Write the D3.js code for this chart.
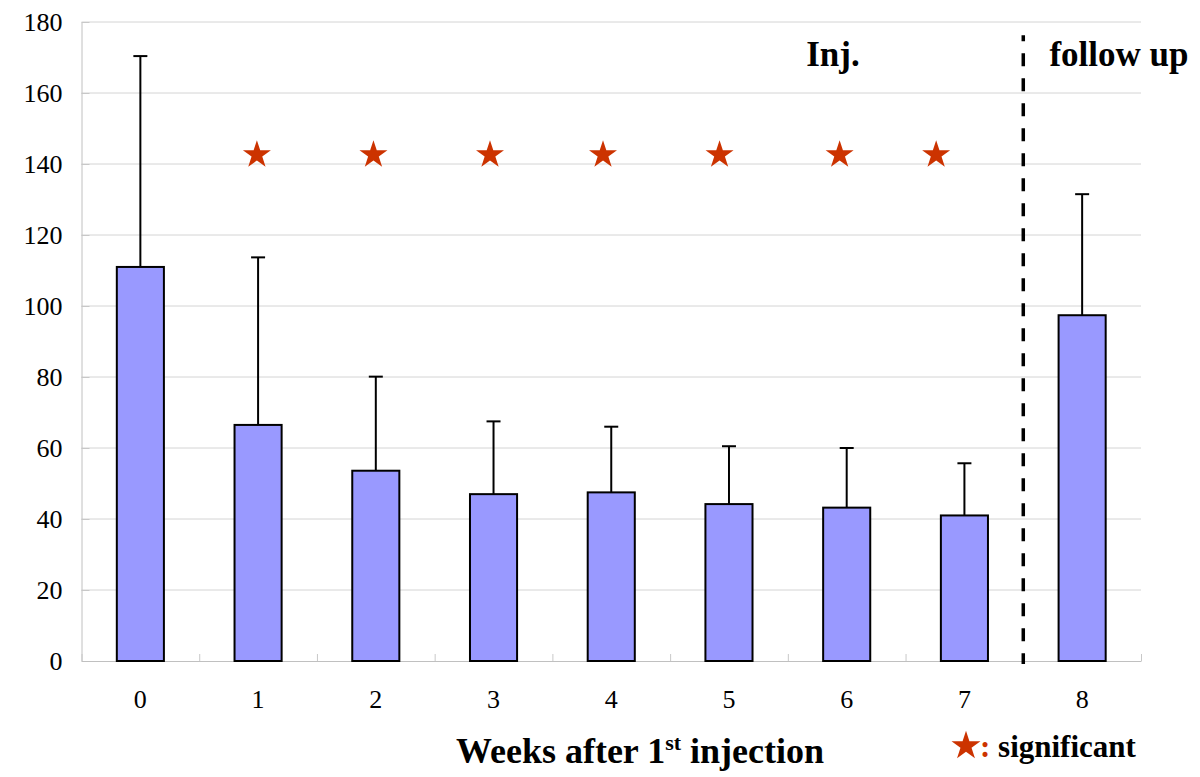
<!DOCTYPE html>
<html>
<head>
<meta charset="utf-8">
<script src="https://cdn.jsdelivr.net/npm/d3@7"></script>
<style>
  html, body { margin: 0; padding: 0; background: #ffffff; }
  svg { display: block; }
  svg text { font-family: "Liberation Serif", "Times New Roman", serif; }
</style>
</head>
<body>
<svg id="chart" width="1200" height="777"></svg>
<script>
// ---- data ----
const weeks = ["0", "1", "2", "3", "4", "5", "6", "7", "8"];
const means = [111, 66.5, 53.6, 47.0, 47.5, 44.2, 43.2, 41.0, 97.4];
const upperErr = [170.4, 113.7, 80.1, 67.5, 66.0, 60.5, 60.0, 55.7, 131.5];
const yTicks = [0, 20, 40, 60, 80, 100, 120, 140, 160, 180];
const starWeeks = [0.99, 1.98, 2.97, 3.93, 4.92, 5.94, 6.76];
const starLevel = 142.8;
const dividerWeek = 7.5;
const phaseLabels = ["Inj.", "follow up"];
const xTitle = ["Weeks after 1", "st", " injection"];
const legendText = ": significant";

// ---- layout ----
const svg = d3.select("#chart");
const pLeft = 81.5, pRight = 1141, pTop = 22, pBottom = 661;
const serif = "Liberation Serif";

const x = d3.scaleBand().domain(weeks).range([pLeft, pRight]).paddingInner(0.6).paddingOuter(0.3);
const xl = d3.scaleLinear().domain([-0.5, weeks.length - 0.5]).range([pLeft, pRight]);
const y = d3.scaleLinear().domain([0, 180]).range([pBottom, pTop]);

// gridlines
svg.append("g").selectAll("line").data(yTicks.filter(d => d > 0)).join("line")
  .attr("x1", pLeft).attr("x2", pRight)
  .attr("y1", d => y(d)).attr("y2", d => y(d))
  .attr("stroke", "#d4d4d4").attr("stroke-width", 1);

// y axis
const yAxis = svg.append("g").attr("transform", `translate(${pLeft},0)`)
  .call(d3.axisLeft(y).tickValues(yTicks).tickSize(0).tickPadding(19).tickSizeOuter(0))
  .attr("font-family", serif);
yAxis.select(".domain").attr("stroke", "#c0c0c0");
yAxis.selectAll(".tick line").attr("stroke", "#c8c8c8").attr("x1", 0).attr("x2", 8);
yAxis.selectAll(".tick text")
  .attr("font-family", serif)
  .attr("font-size", 26).attr("fill", "#000");

// x axis (labels at centres, tick marks at boundaries)
const xAxis = svg.append("g").attr("transform", `translate(0,${pBottom})`)
  .call(d3.axisBottom(x).tickSize(0).tickPadding(29).tickSizeOuter(0))
  .attr("font-family", serif);
xAxis.select(".domain").remove();
xAxis.selectAll(".tick text")
  .attr("font-family", serif)
  .attr("font-size", 26).attr("fill", "#000");

const boundaries = d3.range(-0.5, weeks.length, 1);
svg.append("g").attr("transform", `translate(0,${pBottom})`)
  .call(d3.axisTop(xl).tickValues(boundaries).tickSize(7).tickFormat("").tickSizeOuter(0))
  .call(g => g.select(".domain").attr("stroke", "#c0c0c0"))
  .call(g => g.selectAll(".tick line").attr("stroke", "#c8c8c8"));

// error bars
const errG = svg.append("g");
const capHalf = 7;
weeks.forEach((w, i) => {
  const cx = x(w) + x.bandwidth() / 2;
  errG.append("line").attr("x1", cx).attr("x2", cx)
    .attr("y1", y(means[i])).attr("y2", y(upperErr[i]))
    .attr("stroke", "#000").attr("stroke-width", 2);
  errG.append("line").attr("x1", cx - capHalf).attr("x2", cx + capHalf)
    .attr("y1", y(upperErr[i])).attr("y2", y(upperErr[i]))
    .attr("stroke", "#000").attr("stroke-width", 2);
});

// bars
svg.append("g").selectAll("rect").data(means).join("rect")
  .attr("x", (d, i) => x(weeks[i]))
  .attr("y", d => y(d))
  .attr("width", x.bandwidth())
  .attr("height", d => y(0) - y(d))
  .attr("fill", "#9999ff")
  .attr("stroke", "#000")
  .attr("stroke-width", 2);

// dashed divider
svg.append("line")
  .attr("x1", xl(dividerWeek)).attr("x2", xl(dividerWeek))
  .attr("y1", y(176.3)).attr("y2", y(0) + 3)
  .attr("stroke", "#000").attr("stroke-width", 3.5)
  .attr("stroke-dasharray", "13,12")
  .attr("stroke-dashoffset", 7);

// stars
const star = d3.symbol().type(d3.symbolStar).size(243);
svg.append("g").selectAll("path").data(starWeeks).join("path")
  .attr("d", star)
  .attr("transform", d => `translate(${xl(d)},${y(starLevel) + 0.8})`)
  .attr("fill", "#cc3300");

// phase labels
svg.append("text").attr("x", 833).attr("y", 66).attr("text-anchor", "middle")
  .attr("font-family", serif).attr("font-weight", "bold").attr("font-size", 35)
  .text(phaseLabels[0]);
svg.append("text").attr("x", 1119).attr("y", 66).attr("text-anchor", "middle")
  .attr("font-family", serif).attr("font-weight", "bold").attr("font-size", 35)
  .text(phaseLabels[1]);

// x title
const t = svg.append("text").attr("x", 640).attr("y", 763).attr("text-anchor", "middle")
  .attr("font-family", serif).attr("font-weight", "bold").attr("font-size", 36);
t.append("tspan").text(xTitle[0]);
t.append("tspan").attr("font-size", 22).attr("dy", -13).text(xTitle[1]);
t.append("tspan").attr("dy", 13).text(xTitle[2]);

// legend
svg.append("path").attr("d", d3.symbol().type(d3.symbolStar).size(260))
  .attr("transform", `translate(966,746)`).attr("fill", "#cc3300");
const lg = svg.append("text").attr("x", 980).attr("y", 757)
  .attr("font-family", serif).attr("font-weight", "bold").attr("font-size", 31);
lg.append("tspan").attr("fill", "#cc3300").text(legendText.slice(0, 1));
lg.append("tspan").attr("fill", "#000").text(legendText.slice(1));
</script>
</body>
</html>
